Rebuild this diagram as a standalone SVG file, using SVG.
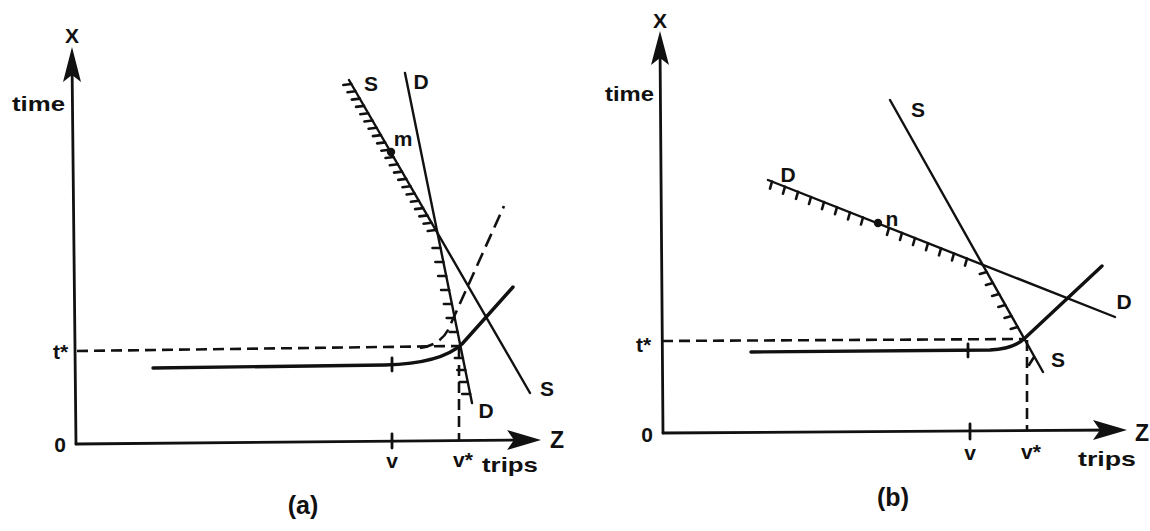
<svg xmlns="http://www.w3.org/2000/svg" width="1150" height="531" viewBox="0 0 1150 531" font-size="21">
<style>
.ax{stroke:#111;stroke-width:2.8;fill:none;stroke-linecap:round}
.ln{stroke:#111;stroke-width:2.4;fill:none;stroke-linecap:round}
.cv{stroke:#111;stroke-width:3.4;fill:none;stroke-linecap:round;stroke-linejoin:round}
.ds{stroke:#111;stroke-width:2.6;fill:none;stroke-dasharray:11 6}
.dl{stroke:#111;stroke-width:2.6;fill:none;stroke-dasharray:14 7}
.ht{stroke:#111;stroke-width:2.6;fill:none;stroke-linecap:round}
.ah{fill:#111}
text{font-family:"Liberation Sans",Arial,sans-serif;font-weight:bold;fill:#111}
.c{text-anchor:middle}
</style>
<rect width="1150" height="531" fill="#fff"/>

<g id="panel-a">
  <g id="axes-a">
    <line class="ax" x1="76" y1="444" x2="72" y2="60"/>
    <path class="ah" d="M72,47 L63,82 L72,75 L81,82 Z"/>
    <line class="ax" x1="76" y1="444" x2="530" y2="440"/>
    <path class="ah" d="M541,440 L507,430 L514,440 L507,450 Z"/>
    <line class="ax" x1="392" y1="434" x2="392" y2="448"/>
  </g>
  <g id="connectors-a">
    <line class="ds" x1="77" y1="351" x2="458" y2="346"/>
    <line class="ds" x1="459" y1="348" x2="459" y2="440"/>
    <path class="dl" d="M420,348 Q440,345 448,330 L504,206"/>
    <path class="cv" d="M153,368 L385,365 C425,364 448,357 462,344 L513,287"/>
    <line class="ax" x1="392" y1="358" x2="392" y2="371"/>
    <line class="ln" x1="349" y1="80" x2="530" y2="393"/>
    <line class="ln" x1="405" y1="73" x2="472" y2="403"/>
    <path class="ht" d="M351.3,84 l-8,1 M355.5,91.3 l-8,1 M359.8,98.6 l-8,1 M364,105.9 l-8,1 M368.2,113.2 l-8,1 M372.4,120.5 l-8,1 M376.6,127.8 l-8,1 M380.9,135.1 l-8,1 M385.1,142.4 l-8,1 M389.3,149.7 l-8,1 M393.5,157 l-8,1 M397.8,164.3 l-8,1 M402,171.6 l-8,1 M406.2,178.9 l-8,1 M410.4,186.2 l-8,1 M414.6,193.5 l-8,1 M418.9,200.8 l-8,1 M423.1,208.1 l-8,1 M427.3,215.4 l-8,1 M431.5,222.7 l-8,1 M435.7,230 l-8,1"/>
    <path class="ht" d="M440.5,248 l-8,0 M443.4,262 l-8,0 M446.2,276 l-8,0 M449.1,290 l-8,0 M451.9,304 l-8,0 M454.7,318 l-8,0 M457.6,332 l-8,0 M462.9,358 l-8,0 M465.3,370 l-8,0 M467.7,382 l-8,0 M470.2,394 l-8,0"/>
    <circle cx="391" cy="152" r="4.2" fill="#111"/>
  </g>
  <g id="labels-a">
    <text class="c" x="72" y="43">X</text>
    <text x="12" y="111" font-size="20" textLength="53" lengthAdjust="spacingAndGlyphs">time</text>
    <text x="53" y="359">t*</text>
    <text class="c" x="60" y="452">0</text>
    <text class="c" x="557" y="448" font-size="23">Z</text>
    <text class="c" x="392" y="468">v</text>
    <text class="c" x="463" y="467">v*</text>
    <text x="482" y="472" font-size="21" textLength="56" lengthAdjust="spacingAndGlyphs">trips</text>
    <text class="c" x="371" y="91">S</text>
    <text class="c" x="421" y="89">D</text>
    <text class="c" x="403" y="146">m</text>
    <text class="c" x="547" y="396">S</text>
    <text class="c" x="486" y="418">D</text>
    <text class="c" x="303" y="514" font-size="25">(a)</text>
  </g>
</g>

<g id="panel-b">
  <g id="axes-b">
    <line class="ax" x1="663" y1="433" x2="660" y2="44"/>
    <path class="ah" d="M660,31 L651,65 L660,58 L669,65 Z"/>
    <line class="ax" x1="663" y1="433" x2="1116" y2="430"/>
    <path class="ah" d="M1127,430 L1093,420 L1100,430 L1093,440 Z"/>
    <line class="ax" x1="970" y1="424" x2="970" y2="439"/>
  </g>
  <g id="connectors-b">
    <line class="ds" x1="662" y1="341" x2="1025" y2="339"/>
    <line class="ds" x1="1027" y1="340" x2="1027" y2="431"/>
    <path class="cv" d="M751,352 L990,350 C1008,349 1018,345 1025,338 L1102,266"/>
    <line class="ax" x1="968" y1="344" x2="968" y2="357"/>
    <line class="ln" x1="890" y1="100" x2="1043" y2="372"/>
    <line class="ln" x1="768" y1="180" x2="1115" y2="317"/>
    <path class="ht" d="M772,181.6 l-2,7 M785,186.7 l-2,7 M798,191.8 l-2,7 M811,197 l-2,7 M824,202.1 l-2,7 M837,207.2 l-2,7 M850,212.4 l-2,7 M863,217.5 l-2,7 M889,227.8 l-2,7 M902,232.9 l-2,7 M915,238 l-2,7 M928,243.2 l-2,7 M941,248.3 l-2,7 M954,253.4 l-2,7 M967,258.6 l-2,7"/>
    <path class="ht" d="M986.8,272 l-7,2 M992.9,283 l-7,2 M999.1,294 l-7,2 M1005.3,305 l-7,2 M1011.5,316 l-7,2 M1017.7,327 l-7,2 M1034,357 l-5,8"/>
    <circle cx="878" cy="223" r="4.2" fill="#111"/>
  </g>
  <g id="labels-b">
    <text class="c" x="660" y="28">X</text>
    <text x="605" y="101" font-size="20" textLength="49" lengthAdjust="spacingAndGlyphs">time</text>
    <text x="636" y="352">t*</text>
    <text class="c" x="647" y="442">0</text>
    <text class="c" x="1142" y="441" font-size="23">Z</text>
    <text class="c" x="970" y="460">v</text>
    <text class="c" x="1031" y="459">v*</text>
    <text x="1078" y="466" font-size="21" textLength="58" lengthAdjust="spacingAndGlyphs">trips</text>
    <text class="c" x="918" y="117">S</text>
    <text class="c" x="788" y="182">D</text>
    <text class="c" x="892" y="226">n</text>
    <text class="c" x="1124" y="309">D</text>
    <text class="c" x="1058" y="367">S</text>
    <text class="c" x="893" y="506" font-size="25">(b)</text>
  </g>
</g>
</svg>
